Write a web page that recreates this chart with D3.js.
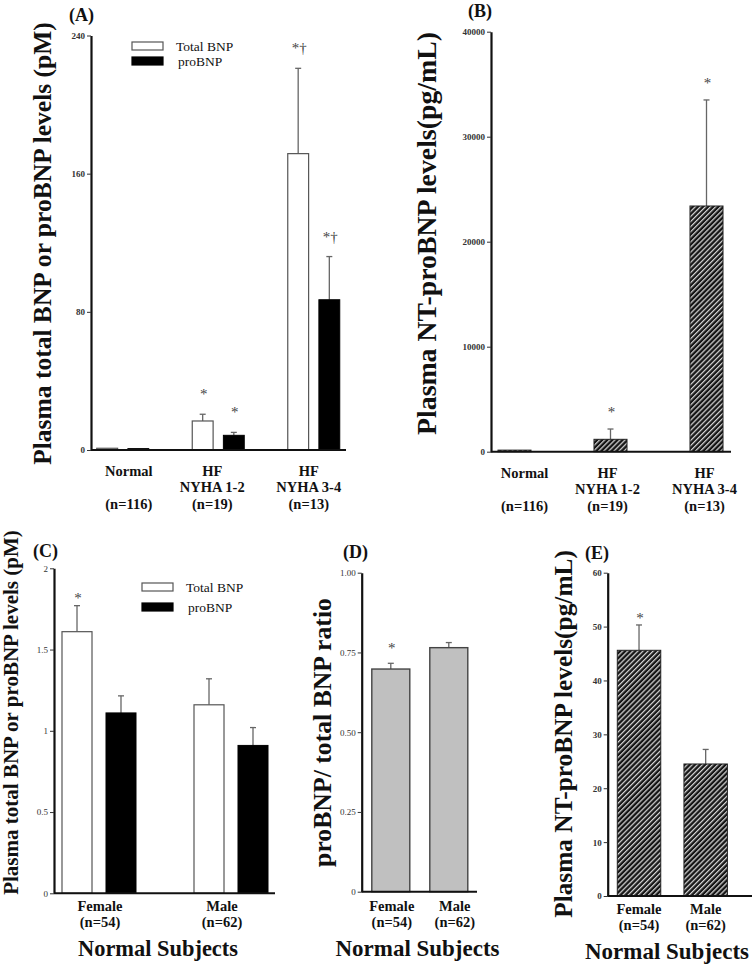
<!DOCTYPE html>
<html><head><meta charset="utf-8">
<script src="https://cdn.jsdelivr.net/npm/d3@7"></script>
<style>
body{margin:0;background:#fff}
svg{display:block}
text{font-family:"Liberation Serif","Times New Roman",serif}
</style>
</head><body>
<svg id="c" width="754" height="968"></svg>
<script>
// ---------------- DATA ----------------
// Panel A
const groupsAB = ["Normal", "HF NYHA 1-2", "HF NYHA 3-4"];
const labelLinesAB = [["Normal", "", "(n=116)"], ["HF", "NYHA 1-2", "(n=19)"], ["HF", "NYHA 3-4", "(n=13)"]];
const totalBNP_A = [1.0, 16.8, 171.6];
const totalBNP_A_sem = [0, 3.9, 49.4];
const totalBNP_A_sig = ["", "*", "*†"];
const proBNP_A = [0.8, 8.5, 87.0];
const proBNP_A_sem = [0, 1.7, 25.0];
const proBNP_A_sig = ["", "*", "*†"];
const ticksA = [0, 80, 160, 240];
const tickLabelsA = ["0", "80", "160", "240"];
// Panel B
const ntproBNP_B = [150, 1180, 23400];
const ntproBNP_B_sem = [0, 980, 10100];
const ntproBNP_B_sig = ["", "*", "*"];
const ticksB = [0, 10000, 20000, 30000, 40000];
const tickLabelsB = ["0", "10000", "20000", "30000", "40000"];
// Panels C, D, E
const groupsCDE = ["Female", "Male"];
const labelLinesCDE = [["Female", "(n=54)"], ["Male", "(n=62)"]];
const totalBNP_C = [1.61, 1.16];
const totalBNP_C_sem = [0.16, 0.16];
const totalBNP_C_sig = ["*", ""];
const proBNP_C = [1.11, 0.91];
const proBNP_C_sem = [0.105, 0.11];
const proBNP_C_sig = ["", ""];
const ticksC = [0, 0.5, 1, 1.5, 2];
const tickLabelsC = ["0", "0.5", "1", "1.5", "2"];
const ratioD = [0.698, 0.765];
const ratioD_sem = [0.018, 0.016];
const ratioD_sig = ["*", ""];
const ticksD = [0, 0.25, 0.5, 0.75, 1];
const tickLabelsD = ["0", "0.25", "0.50", "0.75", "1.00"];
const ntproBNP_E = [45.6, 24.5];
const ntproBNP_E_sem = [4.7, 2.7];
const ntproBNP_E_sig = ["*", ""];
const ticksE = [0, 10, 20, 30, 40, 50, 60];
const tickLabelsE = ["0", "10", "20", "30", "40", "50", "60"];
const legendNames = ["Total BNP", "proBNP"];

// ---------------- DRAW ----------------
const svg = d3.select("#c");
const defs = svg.append("defs");
const pat = defs.append("pattern").attr("id", "hatch").attr("patternUnits", "userSpaceOnUse")
  .attr("width", 3.6).attr("height", 3.6).attr("patternTransform", "rotate(45)");
pat.append("rect").attr("width", 3.6).attr("height", 3.6).attr("fill", "#151515");
pat.append("rect").attr("width", 1.25).attr("height", 3.6).attr("fill", "#d6d6d6");

const STY = {
  white: {fill: "#fff", stroke: "#555", sw: 1.2},
  black: {fill: "#000", stroke: "#000", sw: 1},
  hatch: {fill: "url(#hatch)", stroke: "#222", sw: 1},
  gray: {fill: "#c0c0c0", stroke: "#444", sw: 1.4}
};

function fitText(sel, target) {
  const w = sel.node().getComputedTextLength();
  const fs = parseFloat(sel.attr("font-size"));
  sel.attr("font-size", fs * target / w);
}

function drawPanel(p) {
  const g = svg.append("g");
  const y = d3.scaleLinear().domain([0, p.max]).range([p.yBot, p.yTop]);
  const x0 = d3.scaleBand().domain(p.groups).range(p.groupRange)
    .paddingInner(p.padIn).paddingOuter(p.padIn / 2);
  let x1 = null;
  if (p.series.length > 1) {
    const bw = x0.bandwidth();
    x1 = d3.scaleBand().domain(p.series.map((s, i) => i))
      .range([bw / 2 - p.subHalf, bw / 2 + p.subHalf]).paddingInner(p.subPad);
  }
  const barX = (gi, si) => x1 ? x0(p.groups[gi]) + x1(si) : x0(p.groups[gi]);
  const barW = x1 ? x1.bandwidth() : x0.bandwidth();

  p.series.forEach((s, si) => {
    const st = STY[s.style];
    s.values.forEach((v, gi) => {
      const bx = barX(gi, si);
      const cx = bx + barW / 2;
      const e = s.sem[gi];
      if (e > 0) {
        g.append("line").attr("x1", cx).attr("x2", cx).attr("y1", y(v)).attr("y2", y(v + e))
          .attr("stroke", "#666").attr("stroke-width", 1.3);
        g.append("line").attr("x1", cx - 3).attr("x2", cx + 3).attr("y1", y(v + e)).attr("y2", y(v + e))
          .attr("stroke", "#666").attr("stroke-width", 1.3);
      }
      g.append("rect").attr("x", bx).attr("y", y(v)).attr("width", barW)
        .attr("height", Math.max(0.8, y(0) - y(v)))
        .attr("fill", st.fill).attr("stroke", st.stroke).attr("stroke-width", st.sw);
      if (s.sig[gi]) {
        g.append("text").attr("x", cx + 1).attr("y", y(v + e) - p.sigGap + 7)
          .attr("text-anchor", "middle").attr("font-size", 15).attr("fill", "#444")
          .text(s.sig[gi]);
      }
    });
  });

  // y axis
  const ax = g.append("g").attr("transform", `translate(${p.ax},0)`)
    .call(d3.axisLeft(y).tickValues(p.ticks).tickSize(4).tickSizeOuter(0)
      .tickFormat((d, i) => p.tickLabels[i]));
  ax.select(".domain").attr("stroke", "#111").attr("stroke-width", 2.2);
  ax.selectAll(".tick line").attr("stroke", "#333").attr("stroke-width", 1);
  ax.selectAll(".tick text").attr("font-family", "Liberation Serif, serif")
    .attr("font-size", 9).attr("font-weight", p.tickBold ? "bold" : "normal").attr("fill", "#333")
    .attr("x", -6);
  // baseline
  g.append("line").attr("x1", p.ax).attr("x2", p.xEnd).attr("y1", y(0)).attr("y2", y(0))
    .attr("stroke", "#111").attr("stroke-width", 2);

  // category labels
  p.groups.forEach((grp, gi) => {
    const cx = x0(grp) + x0.bandwidth() / 2 + (p.labelShift ? p.labelShift[gi] : 0);
    p.labelLines[gi].forEach((ln, li) => {
      if (!ln) return;
      g.append("text").attr("x", cx).attr("y", y(0) + p.lineOff[li])
        .attr("text-anchor", "middle").attr("font-size", 14.5).attr("font-weight", "bold")
        .attr("fill", "#111").text(ln);
    });
  });

  // x title
  if (p.xTitle) {
    const t = g.append("text").attr("x", p.xTitle.x).attr("y", p.xTitle.y).attr("text-anchor", "middle")
      .attr("font-size", 21).attr("font-weight", "bold").attr("fill", "#111").text("Normal Subjects");
    fitText(t, p.xTitle.w);
  }

  // y title
  const yt = g.append("text").attr("transform", `translate(${p.yTitle.x},${p.yTitle.y}) rotate(-90)`)
    .attr("text-anchor", "middle").attr("dy", "0.35em").attr("font-size", 20).attr("font-weight", "bold")
    .attr("fill", "#111").text(p.yTitle.text);
  fitText(yt, p.yTitle.len);

  // panel label
  g.append("text").attr("x", p.tag.x).attr("y", p.tag.y).attr("font-size", 18).attr("font-weight", "bold")
    .attr("fill", "#111").text(p.tag.text);

  // legend
  if (p.legend) {
    p.series.forEach((s, si) => {
      const st = STY[s.style];
      g.append("rect").attr("x", p.legend.x).attr("y", p.legend.y + si * p.legend.dy).attr("width", 31).attr("height", 8)
        .attr("fill", st.fill).attr("stroke", st.stroke).attr("stroke-width", 1.2);
      g.append("text").attr("x", p.legend.x + 44 + si * 2).attr("y", p.legend.y + 8.5 + si * p.legend.dy)
        .attr("font-size", 13.5).attr("fill", "#111").text(legendNames[si]);
    });
  }
}

// Panel A
drawPanel({
  groups: groupsAB, labelLines: labelLinesAB, lineOff: [25.5, 42, 58.5], labelShift: [6, -6, -5],
  max: 240, ticks: ticksA, tickLabels: tickLabelsA, tickBold: true,
  ax: 91, xEnd: 346, yTop: 35.5, yBot: 450,
  groupRange: [75, 361.5], padIn: 0, subHalf: 26, subPad: 0.33,
  series: [
    {values: totalBNP_A, sem: totalBNP_A_sem, sig: totalBNP_A_sig, style: "white"},
    {values: proBNP_A, sem: proBNP_A_sem, sig: proBNP_A_sig, style: "black"}
  ],
  sigGap: 22,
  yTitle: {x: 42, y: 243.5, len: 443, text: "Plasma total BNP or proBNP levels (pM)"},
  tag: {x: 69, y: 21, text: "(A)"},
  legend: {x: 132, y: 42, dy: 15}
});

// Panel B
drawPanel({
  groups: groupsAB, labelLines: labelLinesAB, lineOff: [26, 42.5, 59], labelShift: [10, -3, -2],
  max: 40000, ticks: ticksB, tickLabels: tickLabelsB, tickBold: true,
  ax: 491, xEnd: 731, yTop: 31.7, yBot: 451.7,
  groupRange: [466.5, 754.5], padIn: 0.656,
  series: [{values: ntproBNP_B, sem: ntproBNP_B_sem, sig: ntproBNP_B_sig, style: "hatch"}],
  sigGap: 19,
  yTitle: {x: 426, y: 233.5, len: 403, text: "Plasma NT-proBNP levels(pg/mL)"},
  tag: {x: 468, y: 17, text: "(B)"}
});

// Panel C
drawPanel({
  groups: groupsCDE, labelLines: labelLinesCDE, lineOff: [18, 34], labelShift: [1, -9],
  max: 2, ticks: ticksC, tickLabels: tickLabelsC, tickBold: false,
  ax: 54, xEnd: 275, yTop: 568.3, yBot: 893.3,
  groupRange: [33, 297], padIn: 0, subHalf: 37, subPad: 0.318,
  series: [
    {values: totalBNP_C, sem: totalBNP_C_sem, sig: totalBNP_C_sig, style: "white"},
    {values: proBNP_C, sem: proBNP_C_sem, sig: proBNP_C_sig, style: "black"}
  ],
  sigGap: 10,
  yTitle: {x: 11, y: 712.5, len: 365, text: "Plasma total BNP or proBNP levels (pM)"},
  xTitle: {x: 158, y: 956, w: 160},
  tag: {x: 33, y: 557, text: "(C)"},
  legend: {x: 142, y: 583, dy: 20}
});

// Panel D
drawPanel({
  groups: groupsCDE, labelLines: labelLinesCDE, lineOff: [19.5, 35.5], labelShift: [1, 6],
  max: 1, ticks: ticksD, tickLabels: tickLabelsD, tickBold: false,
  ax: 361.7, xEnd: 477, yTop: 572.7, yBot: 891.7,
  groupRange: [361.8, 477.8], padIn: 0.345,
  series: [{values: ratioD, sem: ratioD_sem, sig: ratioD_sig, style: "gray"}],
  sigGap: 17,
  yTitle: {x: 322, y: 732.5, len: 269, text: "proBNP/ total BNP ratio"},
  xTitle: {x: 417.5, y: 956, w: 164},
  tag: {x: 343, y: 558, text: "(D)"}
});

// Panel E
drawPanel({
  groups: groupsCDE, labelLines: labelLinesCDE, lineOff: [18, 34],
  max: 60, ticks: ticksE, tickLabels: tickLabelsE, tickBold: true,
  ax: 607.7, xEnd: 752, yTop: 572.7, yBot: 896,
  groupRange: [605.7, 739], padIn: 0.348,
  series: [{values: ntproBNP_E, sem: ntproBNP_E_sem, sig: ntproBNP_E_sig, style: "hatch"}],
  sigGap: 9,
  yTitle: {x: 563, y: 734, len: 368, text: "Plasma NT-proBNP levels(pg/mL)"},
  xTitle: {x: 667, y: 959, w: 164},
  tag: {x: 585, y: 559, text: "(E)"}
});
</script>
</body></html>
